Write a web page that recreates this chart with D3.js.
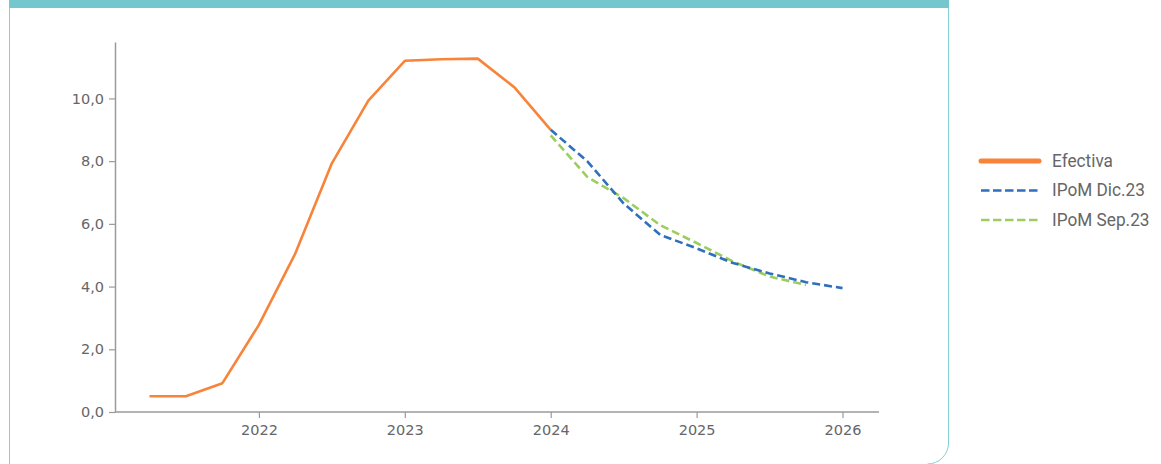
<!DOCTYPE html>
<html>
<head>
<meta charset="utf-8">
<script src="https://cdn.jsdelivr.net/npm/d3@7"></script>
<style>
  html, body { margin: 0; padding: 0; background: #fff; }
  svg { display: block; }
</style>
</head>
<body>
<svg id="chart" width="1161" height="464"></svg>
<script>
// Tasa de política monetaria: efectiva y trayectorias proyectadas (trimestral)
const periodsEfectiva = [2021.25, 2021.5, 2021.75, 2022, 2022.25, 2022.5, 2022.75, 2023, 2023.25, 2023.5, 2023.75, 2024];
const valuesEfectiva  = [0.5, 0.5, 0.92, 2.78, 5.06, 7.93, 9.93, 11.2, 11.25, 11.27, 10.36, 9.0];

const periodsDic23 = [2024, 2024.25, 2024.5, 2024.75, 2025, 2025.25, 2025.5, 2025.75, 2026];
const valuesDic23  = [9.0, 8.0, 6.65, 5.65, 5.22, 4.75, 4.42, 4.14, 3.95];

const periodsSep23 = [2024, 2024.25, 2024.5, 2024.75, 2025, 2025.25, 2025.5, 2025.75];
const valuesSep23  = [8.82, 7.5, 6.82, 5.96, 5.39, 4.8, 4.32, 4.05];

const yTicks = [0, 2, 4, 6, 8, 10];
const xTicks = [2022, 2023, 2024, 2025, 2026];

const seriesNames = ["Efectiva", "IPoM Dic.23", "IPoM Sep.23"];
const seriesColors = ["#f7843a", "#2f6fbd", "#9ccd5e"];

const svg = d3.select("#chart");

// Card frame: teal header strip and rounded border
svg.append("path")
  .attr("d", "M9.5,0 V470 M948.5,0 V443 A21,21 0 0 1 927.5,464")
  .attr("fill", "none")
  .attr("stroke", "#84d0d4")
  .attr("stroke-width", 1);
svg.append("rect")
  .attr("x", 9).attr("y", 0)
  .attr("width", 940).attr("height", 8)
  .attr("fill", "#74c7cc");

const x = d3.scaleLinear().domain([2021, 2026.25]).range([113, 879]);
const y = d3.scaleLinear().domain([0, 11.8]).range([412, 42]);

const fmt = d => d.toFixed(1).replace(".", ",");

// Y axis
const yAxis = svg.append("g")
  .attr("transform", "translate(115,0)")
  .call(d3.axisLeft(y).tickValues(yTicks).tickFormat(fmt).tickSize(6).tickSizeOuter(0).tickPadding(5));
yAxis.select(".domain").attr("stroke", "#9a9a9a").attr("stroke-width", 1.5);
yAxis.selectAll(".tick line").attr("stroke", "#9a9a9a").attr("stroke-width", 1.2);
yAxis.selectAll(".tick text")
  .attr("fill", "#666")
  .style("font-family", "'DejaVu Sans', Verdana, sans-serif")
  .style("font-size", "14.5px");

// X axis
const xAxis = svg.append("g")
  .attr("transform", "translate(0,412)")
  .call(d3.axisBottom(x).tickValues(xTicks).tickFormat(d3.format("d")).tickSize(6).tickSizeOuter(0).tickPadding(7));
xAxis.select(".domain").remove();
xAxis.append("line")
  .attr("x1", 115).attr("x2", 879)
  .attr("stroke", "#9a9a9a").attr("stroke-width", 1.5);
xAxis.selectAll(".tick line").attr("stroke", "#9a9a9a").attr("stroke-width", 1.2);
xAxis.selectAll(".tick text")
  .attr("fill", "#666")
  .style("font-family", "'DejaVu Sans', Verdana, sans-serif")
  .style("font-size", "14.5px");

const line = d3.line().x(d => x(d[0])).y(d => y(d[1]));
const zip = (a, b) => a.map((v, i) => [v, b[i]]);

// Projections first so the actual series sits on top at the join
svg.append("path")
  .datum(zip(periodsSep23, valuesSep23))
  .attr("d", line)
  .attr("fill", "none")
  .attr("stroke", seriesColors[2])
  .attr("stroke-width", 2.6)
  .attr("stroke-dasharray", "8,4");

svg.append("path")
  .datum(zip(periodsDic23, valuesDic23))
  .attr("d", line)
  .attr("fill", "none")
  .attr("stroke", seriesColors[1])
  .attr("stroke-width", 2.6)
  .attr("stroke-dasharray", "8,4");

svg.append("path")
  .datum(zip(periodsEfectiva, valuesEfectiva))
  .attr("d", line)
  .attr("fill", "none")
  .attr("stroke", seriesColors[0])
  .attr("stroke-width", 2.6)
  .attr("stroke-linejoin", "round");

// Legend (narrow type: glyphs squeezed horizontally)
const legend = svg.append("g").attr("transform", "translate(981,0)");
const legendY = [161, 190.5, 220];
const legendTexts = [];
seriesNames.forEach((name, i) => {
  const g = legend.append("g").attr("transform", `translate(0,${legendY[i]})`);
  g.append("line")
    .attr("x1", 0).attr("x2", 58)
    .attr("stroke", seriesColors[i])
    .attr("stroke-width", i === 0 ? 5 : 2.6)
    .attr("stroke-linecap", i === 0 ? "round" : "butt")
    .attr("stroke-dasharray", i === 0 ? null : "8.5,3.5");
  const t = g.append("text")
    .attr("fill", "#666")
    .style("font-family", "Roboto, 'Liberation Sans', sans-serif")
    .style("font-size", "18px")
    .text(name);
  legendTexts.push(t);
});
const squeeze = 61 / legendTexts[0].node().getComputedTextLength();
legendTexts.forEach(t => t.attr("transform", `translate(71,5.8) scale(${squeeze},1)`));
</script>
</body>
</html>
